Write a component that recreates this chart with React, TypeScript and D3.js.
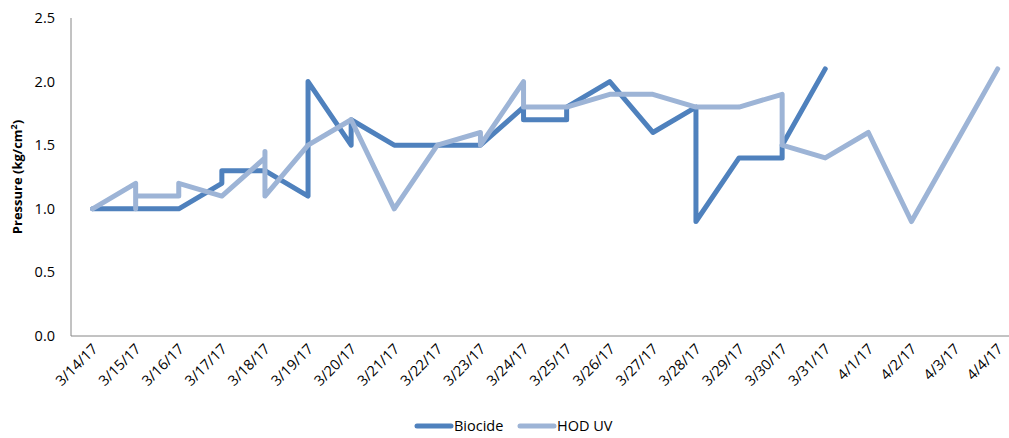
import React, { useEffect, useRef } from 'react';
import * as d3 from 'd3';

// Category dates on the x axis
const DATES = [
  '3/14/17', '3/15/17', '3/16/17', '3/17/17', '3/18/17', '3/19/17', '3/20/17', '3/21/17',
  '3/22/17', '3/23/17', '3/24/17', '3/25/17', '3/26/17', '3/27/17', '3/28/17', '3/29/17',
  '3/30/17', '3/31/17', '4/1/17', '4/2/17', '4/3/17', '4/4/17'
];

// Several readings can fall on one date, so each series lists [date, value] in order
const BIOCIDE: [string, number][] = [
  ['3/14/17', 1.0], ['3/15/17', 1.0], ['3/16/17', 1.0], ['3/17/17', 1.2], ['3/17/17', 1.3],
  ['3/18/17', 1.3], ['3/19/17', 1.1], ['3/19/17', 2.0], ['3/20/17', 1.5], ['3/20/17', 1.7],
  ['3/21/17', 1.5], ['3/22/17', 1.5], ['3/23/17', 1.5], ['3/24/17', 1.8], ['3/24/17', 1.7],
  ['3/25/17', 1.7], ['3/25/17', 1.8], ['3/26/17', 2.0], ['3/27/17', 1.6], ['3/28/17', 1.8],
  ['3/28/17', 0.9], ['3/29/17', 1.4], ['3/30/17', 1.4], ['3/30/17', 1.5], ['3/31/17', 2.1]
];

const HOD_UV: [string, number][] = [
  ['3/14/17', 1.0], ['3/15/17', 1.2], ['3/15/17', 1.0], ['3/15/17', 1.1], ['3/16/17', 1.1],
  ['3/16/17', 1.2], ['3/17/17', 1.1], ['3/18/17', 1.4], ['3/18/17', 1.45], ['3/18/17', 1.1],
  ['3/19/17', 1.5], ['3/20/17', 1.7], ['3/21/17', 1.0], ['3/22/17', 1.5], ['3/23/17', 1.6],
  ['3/23/17', 1.5], ['3/24/17', 2.0], ['3/24/17', 1.8], ['3/25/17', 1.8], ['3/26/17', 1.9],
  ['3/27/17', 1.9], ['3/28/17', 1.8], ['3/29/17', 1.8], ['3/30/17', 1.9], ['3/30/17', 1.5],
  ['3/31/17', 1.4], ['4/1/17', 1.6], ['4/2/17', 0.9], ['4/3/17', 1.5], ['4/4/17', 2.1]
];

const Y_TICKS = [0, 0.5, 1.0, 1.5, 2.0, 2.5];

const SERIES = [
  { name: 'Biocide', color: '#4f81bd', values: BIOCIDE },
  { name: 'HOD UV', color: '#9db4d6', values: HOD_UV }
];

const FONT = '"Open Sans", sans-serif';

export default function App() {
  const svgRef = useRef<SVGSVGElement>(null);

  useEffect(() => {
    if (!svgRef.current) return;
    const width = 1009;
    const svg = d3.select(svgRef.current);
    svg.selectAll('*').remove();

    const left = 71;
    const top = 18;
    const bottom = 336;
    const step = 43.1;

    const x = d3.scalePoint<string>()
      .domain(DATES)
      .range([left, left + step * DATES.length])
      .padding(0.5);

    const y = d3.scaleLinear().domain([0, 2.5]).range([bottom, top]);

    // axis lines
    svg.append('line')
      .attr('x1', left).attr('x2', left)
      .attr('y1', top).attr('y2', bottom)
      .attr('stroke', '#868686').attr('stroke-width', 1);
    svg.append('line')
      .attr('x1', left).attr('x2', width)
      .attr('y1', bottom).attr('y2', bottom)
      .attr('stroke', '#868686').attr('stroke-width', 1);

    // y tick labels
    svg.append('g')
      .selectAll('text')
      .data(Y_TICKS)
      .enter()
      .append('text')
      .attr('x', 55)
      .attr('y', d => y(d))
      .attr('dy', '0.35em')
      .attr('text-anchor', 'end')
      .style('font-family', FONT)
      .style('font-size', '14.5px')
      .style('fill', '#000')
      .text(d => d.toFixed(1));

    // x tick labels, rotated
    svg.append('g')
      .selectAll('text')
      .data(DATES)
      .enter()
      .append('text')
      .attr('transform', d => `translate(${(x(d) as number) + 6},${bottom + 14}) rotate(-45)`)
      .attr('text-anchor', 'end')
      .style('font-family', FONT)
      .style('font-size', '14.5px')
      .style('fill', '#000')
      .text(d => d);

    // y axis title
    svg.append('text')
      .attr('transform', `translate(22,${(top + bottom) / 2}) rotate(-90)`)
      .attr('text-anchor', 'middle')
      .style('font-family', FONT)
      .style('font-size', '13px')
      .style('font-weight', '700')
      .style('fill', '#000')
      .html('Pressure (kg/cm<tspan dy="-5" font-size="9">2</tspan><tspan dy="5">)</tspan>');

    const line = d3.line<[string, number]>()
      .x(d => x(d[0]) as number)
      .y(d => y(d[1]));

    SERIES.forEach(s => {
      svg.append('path')
        .datum(s.values)
        .attr('d', line)
        .attr('fill', 'none')
        .attr('stroke', s.color)
        .attr('stroke-width', 5)
        .attr('stroke-linejoin', 'round')
        .attr('stroke-linecap', 'round');
    });

    // legend
    const legend = svg.append('g').attr('transform', 'translate(0,426)');
    const legendItems = [
      { ...SERIES[0], x: 417 },
      { ...SERIES[1], x: 520 }
    ];
    legendItems.forEach(item => {
      legend.append('line')
        .attr('x1', item.x).attr('x2', item.x + 34)
        .attr('y1', 0).attr('y2', 0)
        .attr('stroke', item.color)
        .attr('stroke-width', 5)
        .attr('stroke-linecap', 'round');
      legend.append('text')
        .attr('x', item.x + 37)
        .attr('y', 0)
        .attr('dy', '0.35em')
        .style('font-family', FONT)
        .style('font-size', '14.5px')
        .style('fill', '#000')
        .text(item.name);
    });
  }, []);

  return (
    <svg
      ref={svgRef}
      width={1009}
      height={438}
      style={{ position: 'absolute', left: 0, top: 0, display: 'block', background: '#fff' }}
    />
  );
}
